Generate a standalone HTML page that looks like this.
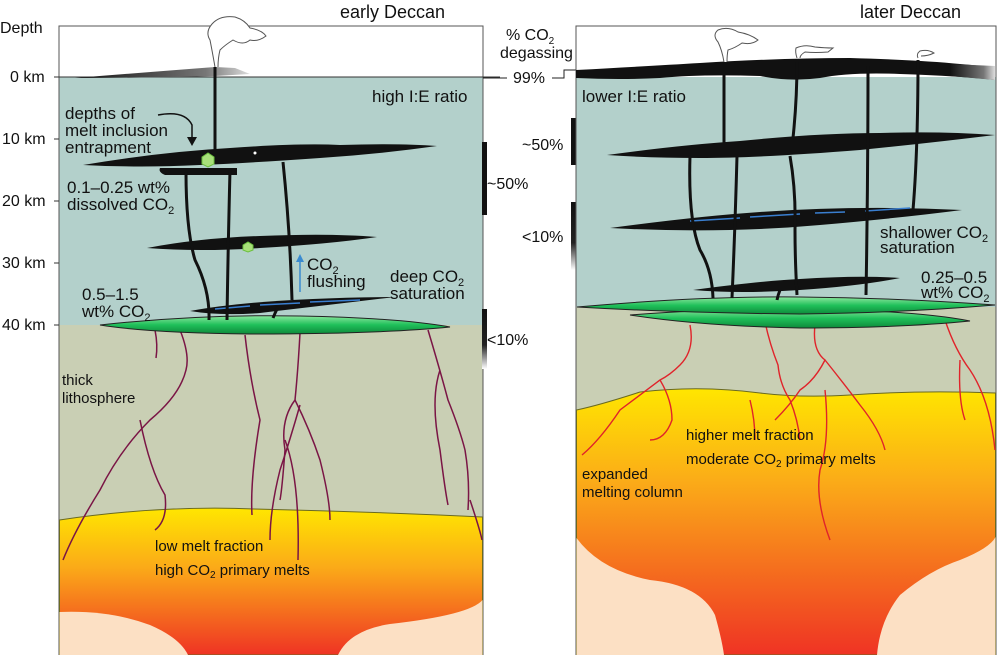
<!DOCTYPE html>
<html><head><meta charset="utf-8"><style>
html,body{margin:0;padding:0;background:#fff;}
svg{display:block;font-family:"Liberation Sans",sans-serif;}
</style></head><body>
<svg width="1000" height="655" viewBox="0 0 1000 655" xmlns="http://www.w3.org/2000/svg">
<defs>
<linearGradient id="mag" x1="0" y1="0" x2="0" y2="1">
<stop offset="0" stop-color="#ffe600"/><stop offset="0.4" stop-color="#fbab18"/><stop offset="1" stop-color="#ef3324"/>
</linearGradient>
<linearGradient id="mag2" x1="0" y1="0" x2="0" y2="1">
<stop offset="0" stop-color="#ffe600"/><stop offset="0.35" stop-color="#fbab18"/><stop offset="1" stop-color="#ef3324"/>
</linearGradient>
<linearGradient id="grn" x1="0" y1="0" x2="0" y2="1">
<stop offset="0" stop-color="#8fe8a0"/><stop offset="0.5" stop-color="#1fc05a"/><stop offset="1" stop-color="#0e8a3a"/>
</linearGradient>
<linearGradient id="lava" x1="0" y1="0" x2="1" y2="0">
<stop offset="0" stop-color="#111"/><stop offset="0.75" stop-color="#777"/><stop offset="1" stop-color="#ddd"/>
</linearGradient>
<linearGradient id="barfade" x1="0" y1="0" x2="0" y2="1">
<stop offset="0" stop-color="#111"/><stop offset="0.6" stop-color="#222"/><stop offset="1" stop-color="#fff"/>
</linearGradient>
</defs>

<!-- LEFT PANEL -->
<rect x="59" y="26" width="424" height="629" fill="#fff" stroke="#555" stroke-width="1"/>
<rect x="59.5" y="77" width="423" height="248" fill="#b3d0cb"/>
<rect x="59.5" y="325" width="423" height="200" fill="#c9cfb4"/>
<path d="M59.5 520 Q160 505 255 509 Q380 512 482.5 517 L482.5 655 L59.5 655Z" fill="url(#mag)" stroke="#6a6a20" stroke-width="1"/>
<path d="M59.5 612 Q110 610 150 625 Q180 638 188 655 L59.5 655Z" fill="#fce0c4"/>
<path d="M338 655 Q350 630 390 624 Q470 615 482.5 600 L482.5 655Z" fill="#fce0c4"/>
<!-- surface -->
<line x1="59" y1="77" x2="500" y2="77" stroke="#333" stroke-width="1"/>
<path d="M75 78 Q150 72 215 67 L235 68 Q245 72 250 74 L215 76 Q140 78 75 78Z" fill="url(#lava)"/>
<!-- dikes left -->
<g fill="none" stroke="#7a1545" stroke-width="1.5">
<path d="M155 330 Q158 345 156 358"/>
<path d="M180 330 Q190 355 186 370 Q180 395 150 420 Q120 450 100 490 Q75 530 63 560"/>
<path d="M140 420 Q150 470 165 495 Q168 520 155 530"/>
<path d="M245 335 Q250 380 260 420 Q250 480 252 515"/>
<path d="M300 333 Q298 370 295 400 Q280 420 285 450 Q282 490 280 500"/>
<path d="M295 400 Q310 430 320 460 Q330 500 330 520"/>
<path d="M300 405 Q290 440 280 470 Q270 510 270 540 M285 440 Q300 480 298 560"/>
<path d="M428 330 Q440 370 448 400 Q460 430 465 450 Q470 480 468 510 M440 370 Q430 400 440 450 Q445 490 448 505"/>
<path d="M470 500 Q480 530 482 540"/>
</g>
<!-- green lens left -->
<path d="M100 325 Q200 314 300 316 Q400 318 450 327 Q380 334 250 334 Q150 333 100 325Z" fill="url(#grn)" stroke="#222" stroke-width="1"/>
<!-- sill 3 -->
<path d="M190 311 Q260 298 395 297 Q320 306 260 313 Q220 316 190 311Z" fill="#111"/>
<g stroke="#3a7fd0" stroke-width="1.5"><line x1="215" y1="309" x2="250" y2="306"/><line x1="260" y1="305" x2="300" y2="303"/><line x1="310" y1="302" x2="360" y2="300"/></g>
<!-- sill 2 -->
<path d="M147 248 Q200 238 260 236 Q330 233 377 237 Q330 244 260 248 Q200 252 147 248Z" fill="#111"/>
<!-- sill 1 -->
<path d="M83 165 Q160 152 230 148 Q300 143 340 145 Q400 143 437 146 Q380 154 320 158 Q250 163 200 165 Q140 168 83 165Z" fill="#111"/>
<path d="M160 168 L237 168 L237 175 L165 175 Q158 172 160 168Z" fill="#111"/>
<circle cx="255" cy="153" r="1.5" fill="#fff"/>
<!-- conduits left -->
<g fill="none" stroke="#111" stroke-width="3">
<line x1="215" y1="67" x2="215" y2="155"/>
<path d="M186 172 Q186 230 195 260 Q210 290 209 320"/>
<path d="M230 170 Q228 250 227 320"/>
<path d="M283 162 Q290 230 292 300"/>
<path d="M278 307 Q275 313 273 318"/>
</g>
<!-- plume -->
<path d="M215 67 Q212 50 210 40 Q205 32 212 24 Q220 15 235 17 Q245 20 250 28 Q262 30 266 36 Q258 42 250 40 Q243 46 233 40 Q225 45 220 50 Q218 58 218 67" fill="#fff" stroke="#555" stroke-width="1"/>
<polygon points="202,157 208,153 214,157 214,164 208,167 202,164" fill="#a8e07a" stroke="#6cbf3f"/>
<polygon points="243,245 248,242 253,245 253,250 248,252 243,250" fill="#a8e07a" stroke="#6cbf3f"/>
<!-- blue arrow -->
<line x1="300" y1="292" x2="300" y2="260" stroke="#3a8ad0" stroke-width="1.5"/>
<polygon points="296,262 300,254 304,262" fill="#3a8ad0"/>
<path d="M158 115 Q185 110 192 125 L192 138" fill="none" stroke="#111" stroke-width="1.5"/>
<polygon points="187,137 192,146 197,137" fill="#111"/>

<!-- left labels -->
<g font-size="17" fill="#111">
<text x="340" y="18" font-size="18">early Deccan</text>
<text x="0" y="33" font-size="16">Depth</text>
<text x="10" y="82" font-size="16">0 km</text>
<text x="2" y="144" font-size="16">10 km</text>
<text x="2" y="206" font-size="16">20 km</text>
<text x="2" y="268" font-size="16">30 km</text>
<text x="2" y="330" font-size="16">40 km</text>
<text x="372" y="102">high I:E ratio</text>
<text x="65" y="119">depths of</text>
<text x="65" y="136">melt inclusion</text>
<text x="65" y="153">entrapment</text>
<text x="67" y="193">0.1–0.25 wt%</text>
<text x="67" y="210">dissolved CO<tspan font-size="11" dy="4">2</tspan></text>
<text x="307" y="270">CO<tspan font-size="11" dy="4">2</tspan></text>
<text x="307" y="287">flushing</text>
<text x="390" y="282">deep CO<tspan font-size="11" dy="4">2</tspan></text>
<text x="390" y="299">saturation</text>
<text x="82" y="300">0.5–1.5</text>
<text x="82" y="317">wt% CO<tspan font-size="11" dy="4">2</tspan></text>
</g>
<g stroke="#333" stroke-width="1"><line x1="54" y1="77" x2="59" y2="77"/><line x1="54" y1="139" x2="59" y2="139"/><line x1="54" y1="201" x2="59" y2="201"/><line x1="54" y1="263" x2="59" y2="263"/><line x1="54" y1="325" x2="59" y2="325"/></g>
<g font-size="15" fill="#111" font-stretch="condensed">
<text x="62" y="385">thick</text>
<text x="62" y="403">lithosphere</text>
<text x="155" y="551">low melt fraction</text>
<text x="155" y="575">high CO<tspan font-size="10" dy="3">2</tspan><tspan dy="-3"> primary melts</tspan></text>
</g>

<!-- MIDDLE -->
<g font-size="16" fill="#111">
<text x="506" y="40">% CO<tspan font-size="10" dy="4">2</tspan></text>
<text x="500" y="58">degassing</text>
<text x="513" y="83">99%</text>
<text x="487" y="189">~50%</text>
<text x="487" y="345">&lt;10%</text>
<text x="522" y="150">~50%</text>
<text x="522" y="242">&lt;10%</text>
</g>
<polyline points="483,78 507,78" stroke="#222" fill="none"/>
<polyline points="552,78 564,78 564,70 578,70" stroke="#222" fill="none"/>
<rect x="482" y="142" width="5" height="73" fill="#111"/>
<rect x="482" y="309" width="5" height="60" fill="url(#barfade)"/>
<rect x="571" y="118" width="5" height="47" fill="#111"/>
<rect x="571" y="202" width="5" height="68" fill="url(#barfade)"/>

<!-- RIGHT PANEL -->
<rect x="576" y="26" width="420" height="629" fill="#fff" stroke="#555" stroke-width="1"/>
<rect x="576.5" y="77" width="419" height="230" fill="#b3d0cb"/>
<rect x="576.5" y="307" width="419" height="110" fill="#c9cfb4"/>
<path d="M576.5 410 Q600 405 640 392 Q700 385 760 393 Q800 398 850 395 Q920 390 995.5 393 L995.5 655 L576.5 655Z" fill="url(#mag2)" stroke="#6a6a20" stroke-width="1"/>
<path d="M576.5 538 Q600 570 650 580 Q700 585 715 615 Q722 640 724 655 L576.5 655Z" fill="#fce0c4"/>
<path d="M877 655 Q880 620 900 595 Q930 570 960 560 Q990 548 995.5 537 L995.5 655Z" fill="#fce0c4"/>
<!-- surface lava -->
<path d="M576 70 Q650 66 700 63 Q780 58 850 58 Q920 60 960 64 Q985 66 995 68 L995 80 Q960 76 900 74 Q850 72 820 78 Q790 82 760 76 Q700 74 660 78 Q620 80 576 78Z" fill="#111"/>
<path d="M950 64 L995 66 L995 80 L950 76Z" fill="url(#lava)"/>
<!-- dikes right -->
<g fill="none" stroke="#e0232a" stroke-width="1.4">
<path d="M690 325 Q695 350 680 365 Q670 375 660 380 Q640 395 620 410 Q600 440 582 455"/>
<path d="M660 380 Q672 400 672 420 Q665 440 650 440"/>
<path d="M765 322 Q770 345 778 365 Q780 385 790 400 Q798 420 800 440"/>
<path d="M815 325 Q812 350 825 360 Q815 380 800 390 Q790 405 775 420"/>
<path d="M825 360 Q845 385 860 405 Q880 430 885 450"/>
<path d="M825 390 Q830 440 820 470 Q815 500 830 540"/>
<path d="M945 320 Q955 350 970 370 Q990 400 995 450"/>
<path d="M960 360 Q958 400 965 420"/>
<path d="M750 400 Q755 420 755 440"/>
</g>
<!-- lenses -->
<path d="M630 315 Q750 306 850 310 Q930 313 970 321 Q900 328 800 328 Q700 326 630 315Z" fill="url(#grn)" stroke="#222"/>
<path d="M577 307 Q700 296 800 297 Q900 298 995 305 Q900 313 800 314 Q680 313 577 307Z" fill="url(#grn)" stroke="#222"/>
<!-- sills -->
<path d="M693 290 Q760 281 800 279 Q860 275 900 278 Q860 286 800 290 Q740 294 693 290Z" fill="#111"/>
<path d="M610 228 Q700 216 760 212 Q860 205 962 210 Q900 218 820 225 Q720 234 610 228Z" fill="#111"/>
<g stroke="#3a7fd0" stroke-width="1.5"><line x1="690" y1="221" x2="740" y2="218"/><line x1="750" y1="217" x2="800" y2="214"/><line x1="815" y1="213" x2="845" y2="212"/><line x1="865" y1="211" x2="910" y2="208"/></g>
<path d="M607 155 Q680 145 740 141 Q820 133 880 133 Q940 131 995 135 Q930 143 860 150 Q760 158 700 158 Q650 158 607 155Z" fill="#111"/>
<!-- conduits right -->
<g fill="none" stroke="#111" stroke-width="3">
<line x1="724" y1="70" x2="724" y2="150"/>
<path d="M797 62 Q797 100 793 138"/>
<path d="M868 64 Q868 180 866 295"/>
<path d="M918 60 Q918 150 913 210"/>
<path d="M690 156 Q688 220 700 250 Q712 270 713 298"/>
<path d="M737 156 Q735 230 732 298"/>
<path d="M790 156 Q796 190 795 230 Q795 260 797 295"/>
<path d="M780 290 Q778 295 777 300"/>
</g>
<!-- plumes -->
<path d="M724 62 Q722 50 718 42 Q712 35 718 30 Q728 26 738 32 Q750 34 758 40 Q752 45 742 43 Q735 48 728 50 Q727 55 727 62" fill="#fff" stroke="#555"/>
<path d="M797 58 Q795 52 796 48 Q805 44 815 47 Q825 48 833 48 L828 52 Q815 53 805 52 Q800 55 800 58" fill="#fff" stroke="#555"/>
<path d="M918 58 Q916 54 920 51 Q928 49 934 53 Q928 56 921 56" fill="#fff" stroke="#555"/>
<g font-size="17" fill="#111">
<text x="860" y="18" font-size="18">later Deccan</text>
<text x="582" y="102">lower I:E ratio</text>
<text x="880" y="238">shallower CO<tspan font-size="11" dy="4">2</tspan></text>
<text x="880" y="253">saturation</text>
<text x="921" y="283">0.25–0.5</text>
<text x="921" y="298">wt% CO<tspan font-size="11" dy="4">2</tspan></text>
</g>
<g font-size="15" fill="#111" font-stretch="condensed">
<text x="686" y="440">higher melt fraction</text>
<text x="686" y="464">moderate CO<tspan font-size="10" dy="3">2</tspan><tspan dy="-3"> primary melts</tspan></text>
<text x="582" y="479">expanded</text>
<text x="582" y="497">melting column</text>
</g>
</svg>
</body></html>
